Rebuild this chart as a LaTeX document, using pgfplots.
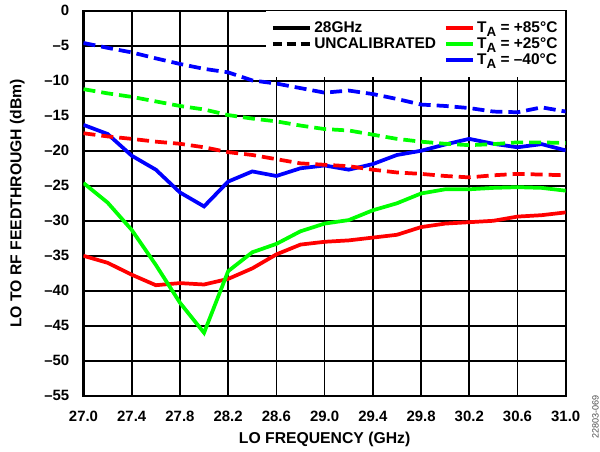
\documentclass[border=0pt]{standalone}
\usepackage{pgfplots}
\pgfplotsset{compat=1.18}
\usepackage{fontspec}
\setmainfont{Liberation Sans}
\definecolor{cred}{RGB}{255,0,0}
\definecolor{cgreen}{RGB}{0,255,0}
\definecolor{cblue}{RGB}{0,0,255}
\newcommand{\TA}{T\raisebox{-0.45ex}{\fontsize{10}{10}\selectfont A}}
\pgfplotsset{
  longleg/.style={legend image code/.code={\draw (0pt,0pt) -- (27.75pt,0pt);}},
  shortleg/.style={legend image code/.code={\draw (0pt,0pt) -- (20pt,0pt);}},
}
\begin{document}
\fontsize{11}{13}\selectfont\bfseries
\begin{tikzpicture}
\path[use as bounding box] (-62.6pt,-41.5pt) rectangle (387.3pt,296.8pt);
\begin{axis}[
  scale only axis,
  width=361.6pt, height=288.75pt,
  at={(0,0)}, anchor=south west,
  xmin=27, xmax=31, ymin=-55, ymax=0,
  xtick={27,27.4,27.8,28.2,28.6,29,29.4,29.8,30.2,30.6,31},
  xticklabels={27.0,27.4,27.8,28.2,28.6,29.0,29.4,29.8,30.2,30.6,31.0},
  ytick={0,-5,-10,-15,-20,-25,-30,-35,-40,-45,-50,-55},
  yticklabels={0,{–5},{–10},{–15},{–20},{–25},{–30},{–35},{–40},{–45},{–50},{–55}},
  tick align=inside, tick pos=both, major tick length=3pt,
  grid=major,
  major grid style={black, line width=1.2pt},
  axis line style={black, line width=1.6pt},
  every tick/.style={black, line width=1.2pt},
  tick label style={font=\fontsize{11.2}{13}\selectfont\bfseries},
  xticklabel style={anchor=base, yshift=-19.3pt},
  yticklabel style={anchor=east, xshift=-6.8pt},
  xlabel={LO FREQUENCY (GHz)},
  ylabel={LO TO RF FEEDTHROUGH (dBm)},
  label style={font=\fontsize{11.8}{13}\selectfont\bfseries},
  xlabel style={at={(axis description cs:0.5,0)}, anchor=base, yshift=-36pt},
  ylabel style={at={(axis description cs:-0.137,0.5)}, anchor=center},
  legend columns=2,
  legend cell align=left,
  legend style={at={(rel axis cs:1,1)}, anchor=north east, draw=none, fill=white,
    font=\fontsize{11.6}{12.5}\selectfont\bfseries,
    inner xsep=4pt, inner ysep=6pt,
    /tikz/column 2/.style={column sep=4pt},
    /tikz/row sep=-1.8pt},
  every axis plot/.append style={line width=2.8pt},
]
% Red solid (+85C)
\addplot[cred, forget plot] coordinates {
(27.0,-35.0) (27.2,-36.0) (27.4,-37.7) (27.6,-39.2) (27.8,-38.9) (28.0,-39.1)
(28.2,-38.3) (28.4,-36.8) (28.6,-34.8) (28.8,-33.4) (29.0,-33.0) (29.2,-32.8)
(29.4,-32.4) (29.6,-32.0) (29.8,-30.9) (30.0,-30.4) (30.2,-30.2) (30.4,-30.0)
(30.6,-29.4) (30.8,-29.2) (31.0,-28.8)};
% Green solid (+25C)
\addplot[cgreen, forget plot] coordinates {
(27.0,-24.6) (27.2,-27.4) (27.4,-31.3) (27.6,-36.3) (27.8,-41.7) (28.0,-46.0)
(28.2,-37.2) (28.4,-34.5) (28.6,-33.3) (28.8,-31.5) (29.0,-30.4) (29.2,-29.9)
(29.4,-28.5) (29.6,-27.5) (29.8,-26.1) (30.0,-25.5) (30.2,-25.5) (30.4,-25.3)
(30.6,-25.2) (30.8,-25.3) (31.0,-25.7)};
% Blue solid (-40C)
\addplot[cblue, forget plot] coordinates {
(27.0,-16.3) (27.2,-17.6) (27.4,-20.7) (27.6,-22.7) (27.8,-25.95) (28.0,-27.95)
(28.2,-24.4) (28.4,-22.95) (28.6,-23.6) (28.8,-22.5) (29.0,-22.1) (29.2,-22.7)
(29.4,-21.9) (29.6,-20.6) (29.8,-20.0) (30.0,-19.1) (30.2,-18.3) (30.4,-19.0)
(30.6,-19.5) (30.8,-19.05) (31.0,-19.95)};
% Red dashed
\addplot[cred, dash pattern=on 9pt off 4.5pt, forget plot] coordinates {
(27.0,-17.5) (27.2,-17.95) (27.4,-18.3) (27.6,-18.7) (27.8,-19.0) (28.0,-19.5)
(28.2,-20.2) (28.4,-20.6) (28.6,-21.2) (28.8,-21.8) (29.0,-22.0) (29.2,-22.2)
(29.4,-22.7) (29.6,-23.1) (29.8,-23.3) (30.0,-23.6) (30.2,-23.8) (30.4,-23.5)
(30.6,-23.3) (30.8,-23.4) (31.0,-23.5)};
% Green dashed
\addplot[cgreen, dash pattern=on 9pt off 4.5pt, forget plot] coordinates {
(27.0,-11.2) (27.2,-11.8) (27.4,-12.3) (27.6,-12.95) (27.8,-13.6) (28.0,-14.1)
(28.2,-14.9) (28.4,-15.4) (28.6,-15.8) (28.8,-16.4) (29.0,-16.9) (29.2,-17.1)
(29.4,-17.7) (29.6,-18.3) (29.8,-18.7) (30.0,-19.0) (30.2,-19.2) (30.4,-19.05)
(30.6,-18.8) (30.8,-18.8) (31.0,-18.9)};
% Blue dashed
\addplot[cblue, dash pattern=on 9pt off 4.5pt, forget plot] coordinates {
(27.0,-4.6) (27.2,-5.3) (27.4,-5.95) (27.6,-6.8) (27.8,-7.6) (28.0,-8.3)
(28.2,-8.8) (28.4,-9.95) (28.6,-10.4) (28.8,-11.05) (29.0,-11.7) (29.2,-11.4)
(29.4,-11.9) (29.6,-12.6) (29.8,-13.4) (30.0,-13.6) (30.2,-13.9) (30.4,-14.4)
(30.6,-14.5) (30.8,-13.8) (31.0,-14.4)};
% Legend
\addlegendimage{black, line width=2.8pt, longleg}
\addlegendentry{28GHz}
\addlegendimage{cred, line width=2.8pt, shortleg}
\addlegendentry{\TA{} = +85°C}
\addlegendimage{black, line width=2.8pt, dash pattern=on 7pt off 3.4pt, longleg}
\addlegendentry{UNCALIBRATED}
\addlegendimage{cgreen, line width=2.8pt, shortleg}
\addlegendentry{\TA{} = +25°C}
\addlegendimage{empty legend}
\addlegendentry{}
\addlegendimage{cblue, line width=2.8pt, shortleg}
\addlegendentry{\TA{} = –40°C}
\end{axis}
\node[rotate=90, font=\fontsize{6.8}{7}\selectfont\mdseries, text=black!70] at (384pt,-16pt) {22803-069};
\end{tikzpicture}
\end{document}
